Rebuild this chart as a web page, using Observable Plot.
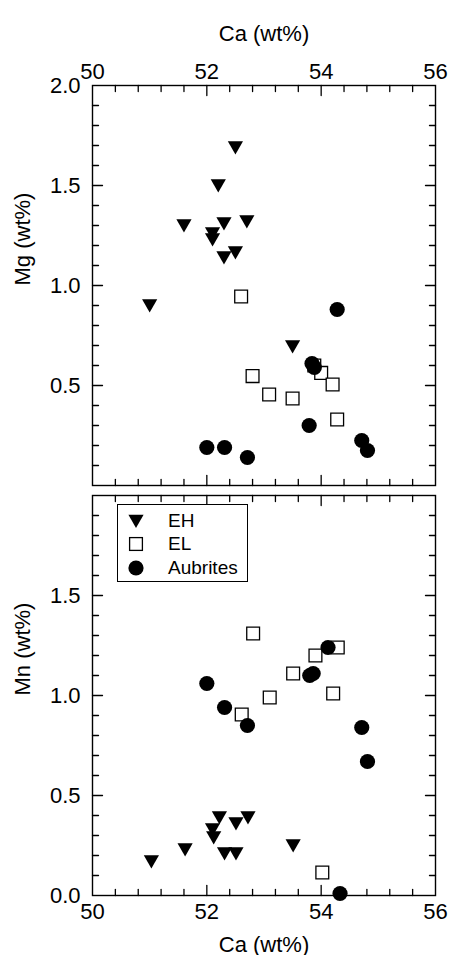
<!DOCTYPE html>
<html><head><meta charset="utf-8">
<script src="https://cdn.jsdelivr.net/npm/d3@7"></script>
<script src="https://cdn.jsdelivr.net/npm/@observablehq/plot@0.6"></script>
<style>
body{margin:0;background:#fff;}
#chart{position:relative;width:450px;height:955px;font-family:"Liberation Sans",Arial,sans-serif;}
#chart svg.plot{position:absolute;left:0;}
#legend{position:absolute;left:117px;top:504px;width:129px;height:76px;border:1.4px solid #000;background:#fff;font-size:19px;}
#legend .row{position:absolute;left:0;height:22px;display:flex;align-items:center;}
#legend .row svg{position:static;margin-left:10px;}
#legend .row span{position:absolute;left:50px;white-space:nowrap;}
</style></head><body><div id="chart"></div>
<script>
// ---- axis ticks ----
const caTicks = [50, 52, 54, 56];
const caMajorInner = [52, 54];
const caMinor = [50.4, 50.8, 51.2, 51.6, 52.4, 52.8, 53.2, 53.6, 54.4, 54.8, 55.2, 55.6];
const mgTicks = [0.5, 1.0, 1.5, 2.0];
const mnTicks = [0.0, 0.5, 1.0, 1.5];
const yMajorInner = [0.5, 1.0, 1.5];
const yMinor = [0.1, 0.2, 0.3, 0.4, 0.6, 0.7, 0.8, 0.9, 1.1, 1.2, 1.3, 1.4, 1.6, 1.7, 1.8, 1.9];

// ---- series: Mg panel ----
const ehCaMg = [52.5, 52.2, 51.6, 52.3, 52.7, 52.1, 52.1, 52.5, 52.3, 51.0, 53.5];
const ehMg   = [1.69, 1.50, 1.30, 1.31, 1.32, 1.26, 1.23, 1.165, 1.14, 0.90, 0.695];
const elCaMg = [52.60, 52.80, 53.09, 53.50, 53.88, 54.00, 54.20, 54.28];
const elMg   = [0.945, 0.547, 0.455, 0.435, 0.60, 0.563, 0.505, 0.33];
const auCaMg = [54.28, 53.84, 53.88, 53.79, 52.00, 52.31, 52.71, 54.71, 54.81];
const auMg   = [0.88, 0.61, 0.59, 0.30, 0.19, 0.19, 0.14, 0.225, 0.175];

// ---- series: Mn panel ----
const ehCaMn = [51.03, 51.62, 52.10, 52.12, 52.22, 52.31, 52.51, 52.51, 52.72, 53.51];
const ehMn   = [0.17, 0.23, 0.33, 0.29, 0.39, 0.21, 0.21, 0.36, 0.39, 0.25];
const elCaMn = [52.81, 53.90, 54.29, 53.51, 54.21, 53.10, 52.61, 54.02];
const elMn   = [1.31, 1.20, 1.24, 1.11, 1.01, 0.99, 0.905, 0.115];
const auCaMn = [54.12, 53.80, 53.86, 52.00, 52.31, 52.71, 54.71, 54.81, 54.33];
const auMn   = [1.24, 1.10, 1.11, 1.06, 0.94, 0.85, 0.84, 0.67, 0.01];

const groups = ["EH", "EL", "Aubrites"];

const rows = (xs, ys) => xs.map((x, i) => ({ca: x, v: ys[i]}));

const triDown = {draw(ctx, size) {
  const r = Math.sqrt(size / Math.PI);
  ctx.moveTo(-r, -0.82 * r); ctx.lineTo(r, -0.82 * r); ctx.lineTo(0, 0.92 * r); ctx.closePath();
}};
const square = {draw(ctx, size) {
  const r = Math.sqrt(size / Math.PI);
  ctx.moveTo(-r, -r); ctx.lineTo(r, -r); ctx.lineTo(r, r); ctx.lineTo(-r, r); ctx.closePath();
}};
const tickShape = {draw(ctx, l) { ctx.moveTo(0, 0); ctx.lineTo(0, -l); }};

function tickMarks(values, side, len) {
  const rot = {top: 180, bottom: 0, left: 90, right: -90}[side];
  const o = {frameAnchor: side, rotate: rot, length: len, anchor: "start", shape: tickShape,
             stroke: "black", strokeWidth: 1.3};
  if (side === "top" || side === "bottom") o.x = d => d; else o.y = d => d;
  return Plot.vector(values, o);
}
function allTicks() {
  return [
    tickMarks(caMajorInner, "top", 10), tickMarks(caMinor, "top", 6),
    tickMarks(caMajorInner, "bottom", 10), tickMarks(caMinor, "bottom", 6),
    tickMarks(yMajorInner, "left", 10), tickMarks(yMinor, "left", 6),
    tickMarks(yMajorInner, "right", 10), tickMarks(yMinor, "right", 6)
  ];
}
function pointMarks(eh, el, au) {
  return [
    Plot.dot(eh, {x: "ca", y: "v", symbol: triDown, r: 7.6, fill: "black", stroke: "none"}),
    Plot.dot(el, {x: "ca", y: "v", symbol: square, r: 6.4, fill: "white", stroke: "black", strokeWidth: 1.3}),
    Plot.dot(au, {x: "ca", y: "v", symbol: "circle", r: 7.6, fill: "black", stroke: "none"})
  ];
}
const fmt = d3.format(".1f");
const FS = 22;
const common = {
  width: 450, marginLeft: 92, marginRight: 15,
  x: {domain: [50, 56]}, y: {domain: [0, 2]},
  style: {background: "none", fontFamily: '"Liberation Sans", Arial, sans-serif', fontSize: FS + "px", color: "black", overflow: "visible"}
};

const topPlot = Plot.plot({
  ...common, height: 490, marginTop: 85, marginBottom: 5,
  marks: [
    Plot.frame({stroke: "black", strokeWidth: 1.4}),
    ...allTicks(),
    Plot.axisX(caTicks, {anchor: "top", tickSize: 0, tickPadding: 7, fontSize: FS, label: null}),
    Plot.axisY(mgTicks, {anchor: "left", tickSize: 0, tickPadding: 12, fontSize: FS, tickFormat: fmt, label: null}),
    Plot.text(["Ca (wt%)"], {frameAnchor: "top", dy: -60, fontSize: FS, text: d => d}),
    Plot.text(["Mg (wt%)"], {frameAnchor: "left", dx: -70, rotate: -90, fontSize: FS, text: d => d}),
    ...pointMarks(rows(ehCaMg, ehMg), rows(elCaMg, elMg), rows(auCaMg, auMg))
  ]
});
topPlot.style.top = "0px";

const botPlot = Plot.plot({
  ...common, height: 475, marginTop: 5, marginBottom: 70,
  marks: [
    Plot.frame({stroke: "black", strokeWidth: 1.4}),
    ...allTicks(),
    Plot.axisX(caTicks, {anchor: "bottom", tickSize: 0, tickPadding: 8, fontSize: FS, label: null}),
    Plot.axisY(mnTicks, {anchor: "left", tickSize: 0, tickPadding: 12, fontSize: FS, tickFormat: fmt, label: null}),
    Plot.text(["Ca (wt%)"], {frameAnchor: "bottom", dy: 56, fontSize: FS, text: d => d}),
    Plot.text(["Mn (wt%)"], {frameAnchor: "left", dx: -70, rotate: -90, fontSize: FS, text: d => d}),
    ...pointMarks(rows(ehCaMn, ehMn), rows(elCaMn, elMn), rows(auCaMn, auMn))
  ]
});
botPlot.style.top = "480px";

const chart = document.getElementById("chart");
chart.append(topPlot, botPlot);

// legend
const legend = document.createElement("div");
legend.id = "legend";
const legendSymbols = [
  '<svg width="16" height="16" viewBox="-8 -8 16 16"><path d="M-7.6,-6.2L7.6,-6.2L0,7L Z" fill="black"/></svg>',
  '<svg width="16" height="16" viewBox="-8 -8 16 16"><rect x="-6.4" y="-6.4" width="12.8" height="12.8" fill="white" stroke="black" stroke-width="1.3"/></svg>',
  '<svg width="16" height="16" viewBox="-8 -8 16 16"><circle r="7.6" fill="black"/></svg>'
];
const rowTops = [5, 28, 52];
groups.forEach((g, i) => {
  const r = document.createElement("div");
  r.className = "row";
  r.style.top = rowTops[i] + "px";
  r.innerHTML = legendSymbols[i] + "<span>" + g + "</span>";
  legend.append(r);
});
chart.append(legend);
</script></body></html>
